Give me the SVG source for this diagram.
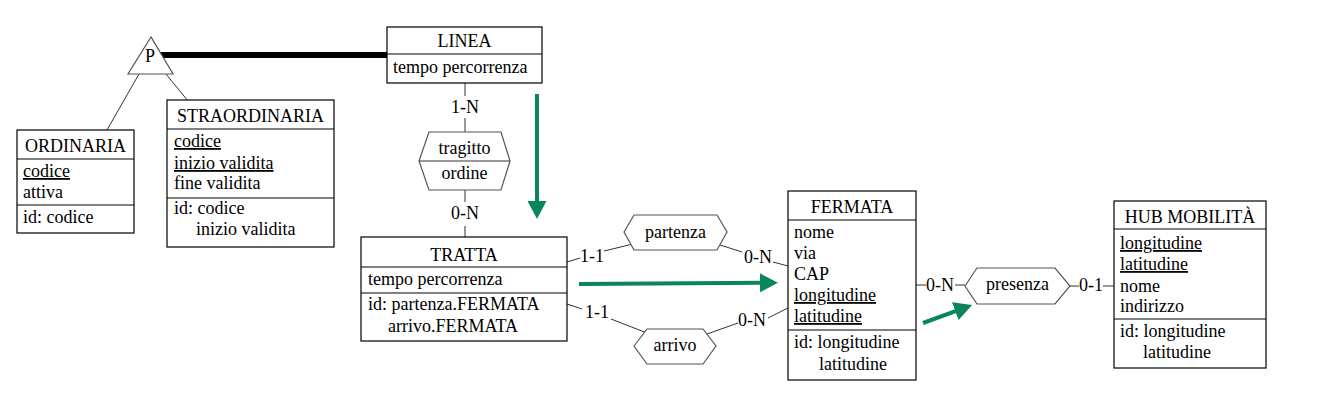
<svg xmlns="http://www.w3.org/2000/svg" width="1323" height="402" viewBox="0 0 1323 402" font-family="Liberation Serif, Times New Roman, DejaVu Serif, serif" font-size="18">
<style>
text{font-family:"Liberation Serif","DejaVu Serif",serif;font-size:18px;fill:#000}
.c{text-anchor:middle}
.u{text-decoration:underline}
.box{fill:#fff;stroke:#000;stroke-width:1.2}
.div{stroke:#000;stroke-width:1.2}
.hex{fill:#fff;stroke:#555;stroke-width:1.2}
.ln{stroke:#333;stroke-width:1;fill:none}
.grn{stroke:#0a875a;stroke-width:4;fill:none}
</style>
<defs>
<marker id="ah" viewBox="0 0 18 19" refX="4" refY="9.5" markerWidth="18" markerHeight="19" markerUnits="userSpaceOnUse" orient="auto">
<path d="M0,0 L18,9.5 L0,19 z" fill="#0a875a"/>
</marker>
</defs>
<rect width="1323" height="402" fill="#fff"/>

<g id="connectors">
<line x1="160" y1="55" x2="387" y2="55" stroke="#000" stroke-width="6"/>
<line class="ln" x1="139" y1="74" x2="107" y2="130"/>
<line class="ln" x1="166" y1="74" x2="188" y2="101"/>
<line class="ln" x1="465" y1="83" x2="465" y2="96"/>
<line class="ln" x1="465" y1="118" x2="465" y2="132"/>
<text class="c" x="465" y="113">1-N</text>
<line class="ln" x1="465" y1="190" x2="465" y2="202"/>
<line class="ln" x1="465" y1="226" x2="465" y2="237"/>
<text class="c" x="465" y="219">0-N</text>
<line class="ln" x1="567" y1="262" x2="580" y2="258"/>
<line class="ln" x1="604" y1="251" x2="633" y2="244"/>
<text class="c" x="592" y="262">1-1</text>
<line class="ln" x1="717" y1="244" x2="742" y2="252"/>
<line class="ln" x1="773" y1="262" x2="788" y2="266"/>
<text class="c" x="758" y="263">0-N</text>
<line class="ln" x1="567" y1="304" x2="582" y2="309"/>
<line class="ln" x1="611" y1="319" x2="647" y2="333"/>
<text class="c" x="597" y="318">1-1</text>
<line class="ln" x1="707" y1="334" x2="738" y2="323"/>
<line class="ln" x1="768" y1="318" x2="788" y2="308"/>
<text class="c" x="752" y="326">0-N</text>
<line class="ln" x1="916" y1="285" x2="926" y2="285"/>
<line class="ln" x1="955" y1="285" x2="965" y2="285"/>
<text class="c" x="940" y="291">0-N</text>
<line class="ln" x1="1070" y1="286" x2="1079" y2="286"/>
<line class="ln" x1="1103" y1="286" x2="1114" y2="286"/>
<text class="c" x="1091" y="291">0-1</text>
<line class="grn" x1="537" y1="94" x2="537" y2="205" marker-end="url(#ah)"/>
<line class="grn" x1="579" y1="284" x2="764" y2="282.8" marker-end="url(#ah)"/>
<line class="grn" x1="923" y1="323" x2="959" y2="309.8" marker-end="url(#ah)"/>
</g>

<g id="gen-P">
<polygon points="151,37 128,74 173,74" fill="#fff" stroke="#555" stroke-width="1.2"/>
<text class="c" x="150" y="62">P</text>
</g>

<g id="ORDINARIA">
<rect class="box" x="17" y="130" width="117" height="103"/>
<line class="div" x1="17" y1="159" x2="134" y2="159"/>
<line class="div" x1="17" y1="205" x2="134" y2="205"/>
<text class="c" x="75.5" y="152">ORDINARIA</text>
<text class="u" x="23" y="177">codice</text>
<text x="23" y="198">attiva</text>
<text x="23" y="223">id: codice</text>
</g>

<g id="STRAORDINARIA">
<rect class="box" x="167" y="100" width="167" height="147"/>
<line class="div" x1="167" y1="129" x2="334" y2="129"/>
<line class="div" x1="167" y1="198" x2="334" y2="198"/>
<text class="c" x="250.5" y="122">STRAORDINARIA</text>
<text class="u" x="174" y="147">codice</text>
<text class="u" x="174" y="169">inizio validita</text>
<text x="174" y="189">fine validita</text>
<text x="174" y="214">id: codice</text>
<text x="196" y="235">inizio validita</text>
</g>

<g id="LINEA">
<rect class="box" x="387" y="27" width="155" height="56"/>
<line class="div" x1="387" y1="54" x2="542" y2="54"/>
<text class="c" x="464.5" y="47">LINEA</text>
<text x="393" y="73">tempo percorrenza</text>
</g>

<g id="tragitto">
<polygon class="hex" points="419,161 429,132 501,132 510,161 501,190 429,190"/>
<line class="ln" x1="419" y1="161" x2="510" y2="161"/>
<text class="c" x="464.5" y="154">tragitto</text>
<text class="c" x="464.5" y="179">ordine</text>
</g>

<g id="TRATTA">
<rect class="box" x="361" y="237" width="206" height="104"/>
<line class="div" x1="361" y1="267" x2="567" y2="267"/>
<line class="div" x1="361" y1="293" x2="567" y2="293"/>
<text class="c" x="464" y="261">TRATTA</text>
<text x="368" y="285">tempo percorrenza</text>
<text x="368" y="310">id: partenza.FERMATA</text>
<text x="388" y="332">arrivo.FERMATA</text>
</g>

<g id="partenza">
<polygon class="hex" points="624,232 634,215 717,215 727,232 717,250 634,250"/>
<text class="c" x="675.5" y="238">partenza</text>
</g>

<g id="arrivo">
<polygon class="hex" points="634,346 647,329 703,329 716,346 703,364 647,364"/>
<text class="c" x="675" y="351">arrivo</text>
</g>

<g id="FERMATA">
<rect class="box" x="788" y="191" width="128" height="189"/>
<line class="div" x1="788" y1="220" x2="916" y2="220"/>
<line class="div" x1="788" y1="330" x2="916" y2="330"/>
<text class="c" x="852" y="213">FERMATA</text>
<text x="794" y="238">nome</text>
<text x="794" y="259">via</text>
<text x="794" y="280">CAP</text>
<text class="u" x="794" y="301">longitudine</text>
<text class="u" x="794" y="322">latitudine</text>
<text x="794" y="348">id: longitudine</text>
<text x="819" y="370">latitudine</text>
</g>

<g id="presenza">
<polygon class="hex" points="965,286 977,268 1055,268 1070,286 1055,304 977,304"/>
<text class="c" x="1017.5" y="290">presenza</text>
</g>

<g id="HUB-MOBILITA">
<rect class="box" x="1114" y="201" width="152" height="167"/>
<line class="div" x1="1114" y1="229" x2="1266" y2="229"/>
<line class="div" x1="1114" y1="319" x2="1266" y2="319"/>
<text class="c" x="1190" y="223">HUB MOBILITÀ</text>
<text class="u" x="1120" y="249">longitudine</text>
<text class="u" x="1120" y="270">latitudine</text>
<text x="1120" y="292">nome</text>
<text x="1120" y="312">indirizzo</text>
<text x="1120" y="337">id: longitudine</text>
<text x="1143" y="358">latitudine</text>
</g>
</svg>
